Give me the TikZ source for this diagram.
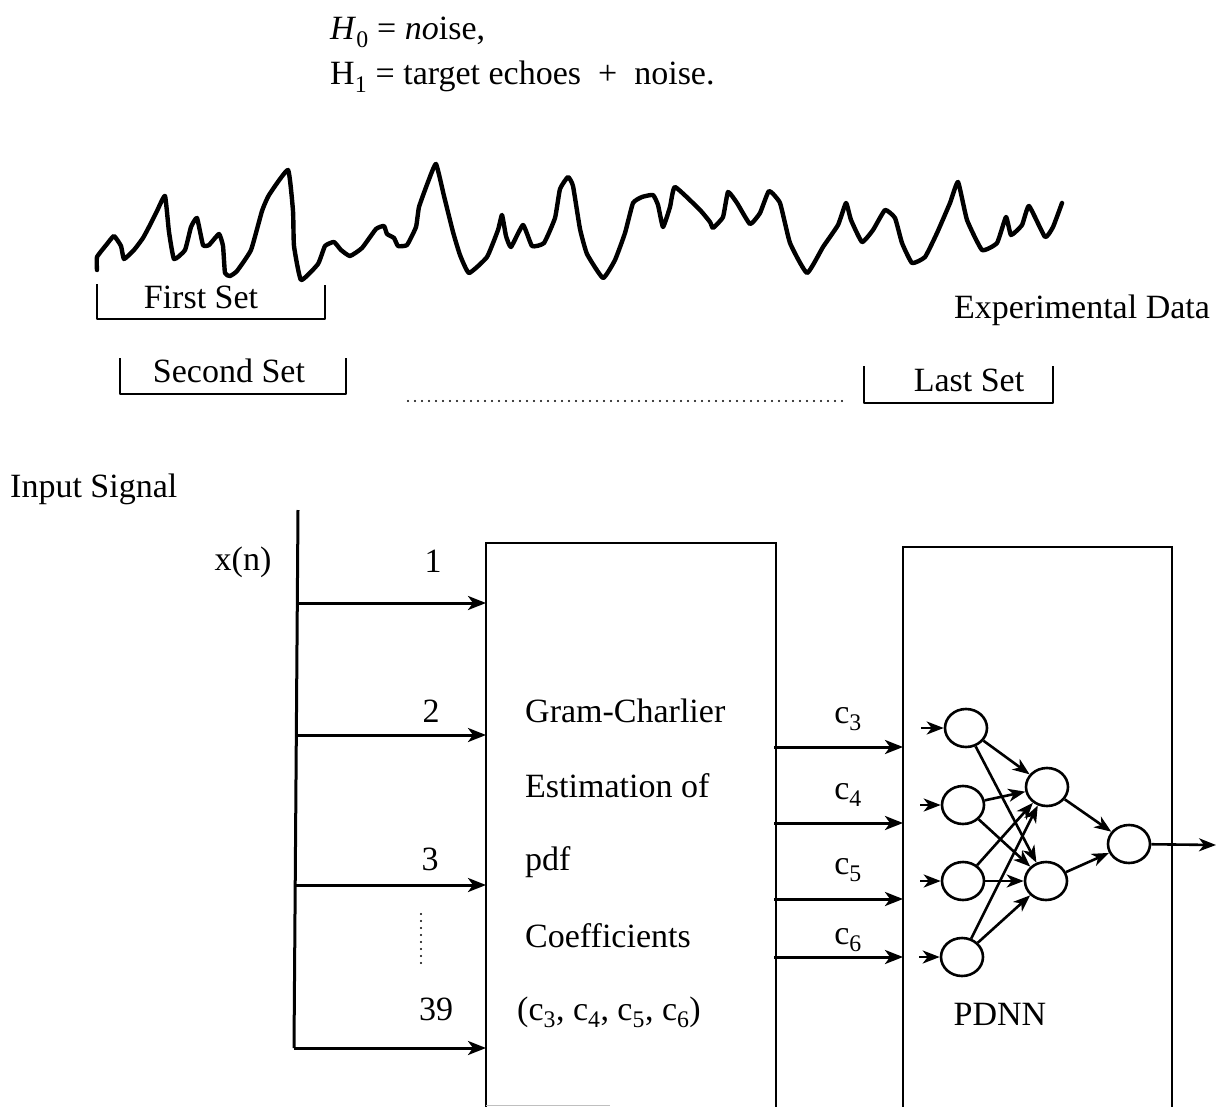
\documentclass[tikz,border=0pt]{standalone}
\usepackage{fontspec}
\setmainfont{Liberation Serif}
\usetikzlibrary{arrows.meta,shapes.geometric}
\begin{document}
\begin{tikzpicture}[x=1pt,y=-1pt,
  lbl/.style={font=\fontsize{34}{40}\selectfont, inner sep=0pt, anchor=base},
  lblw/.style={lbl, anchor=base west},
  wave/.style={line width=4.4pt, line join=round, line cap=round},
  bracket/.style={line width=2.8pt, line join=round},
  boxline/.style={line width=1.8pt},
  dots/.style={line width=2.4pt, line cap=round, dash pattern=on 0pt off 7pt},
  arr/.style={line width=3pt, -{Stealth[length=18pt,width=14pt,inset=5pt]}},
  neuron/.style={ellipse, draw, line width=2.6pt, minimum width=42pt, minimum height=38pt, inner sep=0pt},
  narr/.style={line width=2.6pt, -{Stealth[length=17pt,width=13pt,inset=5pt]}}
]
\useasboundingbox (0,0) rectangle (1217,1107);

% hypotheses
\node[lblw] (h0) at (330,40) {\textit{H}\textsubscript{0} = \textit{no}ise,};
\node[lblw] (h1t) at (330,85) {H\textsubscript{1} = target echoes \ + \ noise.};

% waveform
\draw[wave] plot[smooth, tension=0.25] coordinates {(97,270)(97,257)(107,244)(114,236)(121,246)(124,259)(134,250)(143,238)(150,225)(157,211)(165,196)(169,232)(174,259)(185,250)(191,227)(197,218)(203,245)(209,245)(219,234)(223,246)(225,273)(230,276)(237,271)(251,250)(262,211)(269,195)(288,170)(293,211)(294,246)(301,280)(318,264)(325,246)(334,242)(341,250)(350,256)(362,248)(376,229)(384,226)(387,234)(394,238)(398,246)(407,245)(416,227)(419,207)(428,182)(436,164)(444,196)(453,232)(460,255)(469,273)(487,257)(498,230)(502,215)(506,236)(511,247)(523,225)(532,246)(544,243)(555,218)(560,189)(568,177)(573,186)(580,229)(587,254)(603,278)(615,260)(625,233)(633,203)(642,197)(653,195)(658,205)(663,227)(670,207)(675,187)(700,210)(710,222)(713,228)(723,217)(728,192)(737,203)(750,224)(760,213)(769,191)(780,203)(790,243)(807,273)(823,247)(838,225)(846,203)(851,220)(862,242)(873,230)(885,210)(895,218)(902,243)(912,263)(925,257)(937,233)(950,203)(958,182)(967,220)(982,250)(997,243)(1006,217)(1011,235)(1022,225)(1029,206)(1045,237)(1053,227)(1062,203)};

% sets
\draw[bracket] (97,284) -- (97,319) -- (325,319) -- (325,285);
\node[lbl] (first) at (201,308) {First Set};
\draw[bracket] (120,358) -- (120,394) -- (346,394) -- (346,358);
\node[lbl] (second) at (229,382) {Second Set};
\draw[bracket] (864,366) -- (864,403) -- (1053,403) -- (1053,366);
\node[lbl] (last) at (969,391) {Last Set};
\draw[dots] (408,401) -- (843,401);
\node[lbl] (exp) at (1082,318) {Experimental Data};

% input
\node[lblw] (insig) at (10,497) {Input Signal};
\node[lbl] (xn) at (243,570) {x(n)};
\coordinate (bustop) at (298,510);
\coordinate (busbot) at (294,1048);
\draw[line width=3pt] (bustop) -- (busbot);

% box 1
\coordinate (b1tl) at (486,543);
\coordinate (b1tr) at (776,543);
\draw[boxline] (486,1107) -- (b1tl) -- (b1tr) -- (776,1107);
\draw[gray!50, line width=1pt] (486,1105) -- (610,1105);

\coordinate (s1) at (297,603);
\coordinate (s2) at (296,735);
\coordinate (s3) at (295,885);
\draw[arr] (s1) -- (486,603);
\draw[arr] (s2) -- (486,735);
\draw[arr] (s3) -- (486,885);
\draw[arr] (busbot) -- (486,1048);

\node[lbl] (n1) at (433,572) {1};
\node[lbl] (n2) at (431,722) {2};
\node[lbl] (n3) at (430,870) {3};
\draw[dots] (421,914) -- (421,970);
\node[lbl] (n39) at (436,1020) {39};

\node[lblw] (t1) at (525,722) {Gram-Charlier};
\node[lblw] (t2) at (525,797) {Estimation of};
\node[lblw] (t3) at (525,870) {pdf};
\node[lblw] (t4) at (525,947) {Coefficients};
\node[lblw] (t5) at (517,1020) {(c\textsubscript{3}, c\textsubscript{4}, c\textsubscript{5}, c\textsubscript{6})};

% box 2
\draw[boxline] (903,1107) -- (903,547) -- (1172,547) -- (1172,1107);

% coefficient arrows
\draw[arr] (774,747) -- (903,747);
\draw[arr] (774,823) -- (903,823);
\draw[arr] (774,899) -- (903,899);
\draw[arr] (774,957) -- (903,957);
\node[lbl] (c3) at (848,723) {c\textsubscript{3}};
\node[lbl] (c4) at (848,799) {c\textsubscript{4}};
\node[lbl] (c5) at (848,874) {c\textsubscript{5}};
\node[lbl] (c6) at (848,944) {c\textsubscript{6}};

% network
\node[neuron] (i1) at (966,728) {};
\node[neuron] (i2) at (963,805) {};
\node[neuron] (i3) at (963,881) {};
\node[neuron] (i4) at (962,957) {};
\node[neuron] (hn1) at (1047,787) {};
\node[neuron] (hn2) at (1046,881) {};
\node[neuron] (on) at (1129,844) {};
\coordinate (a1) at (921,728);
\coordinate (a2) at (920,805);
\coordinate (a3) at (920,881);
\coordinate (a4) at (919,957);
\coordinate (out) at (1216,845);
\draw[narr] (a1) -- (i1);
\draw[narr] (a2) -- (i2);
\draw[narr] (a3) -- (i3);
\draw[narr] (a4) -- (i4);
\foreach \s in {i1,i2,i3,i4}{
  \draw[narr] (\s) -- (hn1);
  \draw[narr] (\s) -- (hn2);
}
\draw[narr] (hn1) -- (on);
\draw[narr] (hn2) -- (on);
\draw[narr] (on) -- (out);
\node[lbl] (pdnn) at (1000,1025) {PDNN};
\end{tikzpicture}
\end{document}
